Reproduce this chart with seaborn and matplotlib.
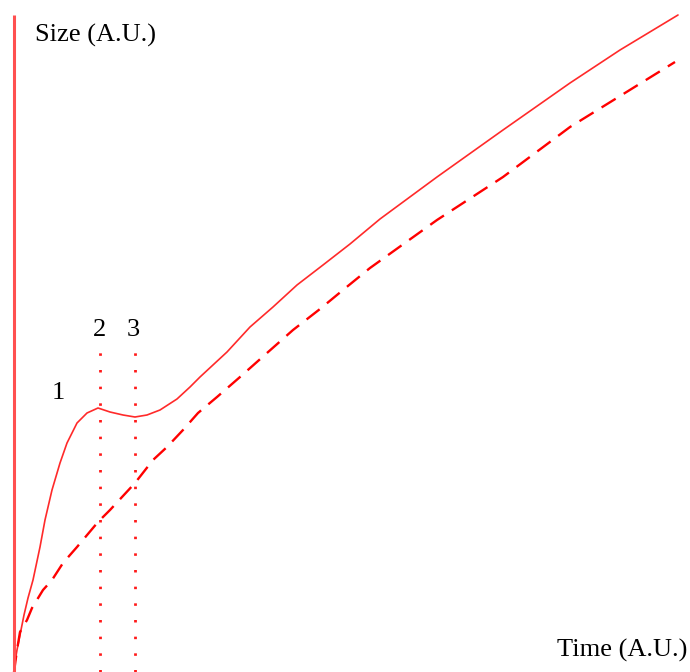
import matplotlib
matplotlib.use("Agg")
import matplotlib.pyplot as plt
import seaborn as sns
import pandas as pd

# Solid curve (time, size) in arbitrary units
solid_t = [0, 0.1, 0.3, 0.6, 1.0, 1.4, 1.9, 2.6, 3.1, 3.8, 4.6, 5.3, 6.3, 7.3, 8.4,
           9.6, 10.9, 12.1, 13.3, 14.6, 16.3, 17.6, 18.6, 21.3, 23.6, 25.9, 28.3,
           30.9, 33.6, 36.6, 42.3, 48.9, 55.6, 60.6, 66.4]
solid_s = [0, 1.0, 2.2, 3.7, 5.7, 7.4, 9.2, 12.5, 15.2, 18.2, 20.9, 22.9, 24.9,
           25.9, 26.4, 26.0, 25.7, 25.5, 25.7, 26.2, 27.3, 28.5, 29.5, 32.0, 34.5,
           36.5, 38.7, 40.7, 42.8, 45.3, 49.5, 54.2, 58.9, 62.2, 65.7]

# Dashed curve
dash_t = [0, 0.3, 0.6, 1.3, 1.8, 2.9, 3.8, 4.9, 6.3, 8.4, 9.6, 12.1, 13.9, 15.3,
          16.9, 18.4, 20.3, 22.6, 25.3, 27.9, 30.6, 32.9, 35.6, 42.3, 48.9, 55.6, 66.1]
dash_s = [0, 2.2, 4.0, 5.2, 6.4, 8.2, 9.2, 10.9, 12.5, 15.0, 16.2, 18.9, 21.2, 22.5,
          24.2, 25.9, 27.5, 29.5, 31.9, 34.2, 36.3, 38.2, 40.4, 45.2, 49.5, 54.5, 61.0]

# Marker times (dotted verticals) and labels
mark_t = [8.6, 12.1]
mark_top = 32.2
labels = ["1", "2", "3"]
label_t = [4.4, 8.6, 11.9]
label_s = [27.9, 34.2, 34.2]

sns.set_style("white")
plt.rcParams["font.family"] = ["Liberation Serif", "DejaVu Serif"]

fig = plt.figure(figsize=(6.9, 6.72), dpi=100)
ax = fig.add_axes([0, 0, 1, 1])

df_solid = pd.DataFrame({"t": solid_t, "s": solid_s})
df_dash = pd.DataFrame({"t": dash_t, "s": dash_s})

sns.lineplot(data=df_solid, x="t", y="s", sort=False, estimator=None,
             color="#ff2a2a", lw=1.2, ax=ax)
sns.lineplot(data=df_dash, x="t", y="s", sort=False, estimator=None,
             color="#ff0000", lw=1.7, ax=ax, dashes=False, linestyle=(0, (7, 4)))

for t in mark_t:
    ax.plot([t, t], [0, mark_top], color="#ff1a1a", lw=2.0, linestyle=(0, (0.9, 5.1)))

# left axis line
ax.plot([0, 0], [0, 65.7], color="#ff5050", lw=2.2, solid_capstyle="butt")

for lab, t, s in zip(labels, label_t, label_s):
    ax.text(t, s, lab, fontsize=19, ha="center", va="center", color="black")

ax.text(2.1, 63.7, "Size (A.U.)", fontsize=19, ha="left", va="center", color="black")
ax.text(54.3, 2.2, "Time (A.U.)", fontsize=19, ha="left", va="center", color="black")

ax.set_xlim(-1.4, 67.6)
ax.set_ylim(0, 67.2)
ax.set_xlabel("")
ax.set_ylabel("")
ax.set_xticks([])
ax.set_yticks([])
for sp in ax.spines.values():
    sp.set_visible(False)

fig.savefig("out.png", dpi=100)
